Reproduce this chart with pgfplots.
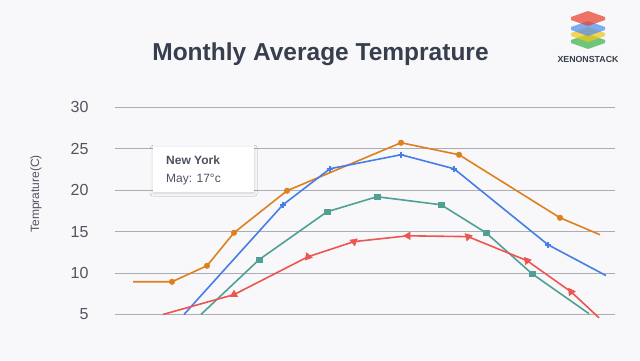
\documentclass[border=0pt]{standalone}
\usepackage{pgfplots}
\pgfplotsset{compat=1.18}
\usepackage{fontspec}
\setmainfont{Liberation Sans}
\usetikzlibrary{shadows.blur}
\definecolor{bg}{RGB}{248,248,251}
\definecolor{cgrid}{RGB}{172,172,180}
\definecolor{ctext}{RGB}{80,85,96}
\definecolor{ctitle}{RGB}{55,62,77}
\definecolor{corange}{RGB}{222,128,30}
\definecolor{cblue}{RGB}{70,125,230}
\definecolor{cteal}{RGB}{80,160,150}
\definecolor{cred}{RGB}{236,85,80}
\definecolor{lred}{RGB}{232,65,44}
\definecolor{lblue}{RGB}{79,143,240}
\definecolor{lyellow}{RGB}{245,197,24}
\definecolor{lgreen}{RGB}{59,179,74}
\begin{document}
\begin{tikzpicture}[x=1pt,y=1pt]
\path[use as bounding box, fill=bg] (0,0) rectangle (640,360);
% title
\node[anchor=base, font=\bfseries\fontsize{24.5}{28}\selectfont, text=ctitle, inner sep=0] at (320.5,300) {Monthly Average Temprature};
% y label
\node[rotate=90, font=\fontsize{12}{14}\selectfont, text=ctext, inner sep=0] at (36,166) {Temprature(C)};
\begin{axis}[
  at={(115,55)}, anchor=south west,
  scale only axis, width=500pt, height=207pt,
  xmin=115, xmax=615, ymin=5, ymax=30,
  clip=false,
  axis line style={draw=none},
  xtick=\empty,
  ytick={5,10,...,30},
  major tick length=0pt,
  ymajorgrids,
  grid style={draw=cgrid, line width=1pt},
  yticklabel style={font=\fontsize{16}{18}\selectfont, text=ctext, xshift=-23pt},
  /pgf/number format/assume math mode=true,
]
% orange
\addplot[corange, line width=1.6pt, line join=round, no marks] coordinates {
 (133,8.95) (172,8.95) (207,10.88) (234,14.87) (287,19.94) (401,25.74) (459,24.29) (560,16.68) (600,14.63)};
\addplot[corange, only marks, mark=*, mark size=2.8pt] coordinates {
 (172,8.95) (207,10.88) (234,14.87) (287,19.94) (401,25.74) (459,24.29) (560,16.68)};
% blue
\addplot[cblue, line width=1.6pt, line join=round, no marks] coordinates {
 (184,5.0) (283,18.25) (330,22.6) (401,24.29) (454,22.6) (548,13.42) (606,9.7)};
\addplot[cblue, only marks, mark=+, mark size=3pt, mark options={line width=2.2pt}] coordinates {
 (283,18.25) (330,22.6) (401,24.29) (454,22.6) (548,13.42)};
% teal
\addplot[cteal, line width=1.6pt, line join=round, no marks] coordinates {
 (201,5.0) (259,11.61) (327,17.4) (377,19.22) (441,18.25) (486,14.87) (532,9.92) (589,5.1)};
\addplot[cteal, only marks, mark=square*, mark size=2.7pt] coordinates {
 (259,11.61) (327,17.4) (377,19.22) (441,18.25) (486,14.87) (532,9.92)};
% red
\addplot[cred, line width=1.6pt, line join=round, no marks] coordinates {
 (163,5.0) (234,7.4) (308,11.97) (354,13.8) (408,14.5) (468,14.4) (527,11.5) (571,7.74) (599,4.6)};
\addplot[scatter, only marks, mark=triangle*, mark size=4.4pt,
  scatter/use mapped color={draw=cred, fill=cred},
  visualization depends on={\thisrow{r}\as\rot},
  scatter/@pre marker code/.append style={/tikz/rotate=\rot}]
  table[x=x, y=y, row sep=\\] {
  x y r \\
  234 7.4 0 \\
  308 11.97 20 \\
  354 13.8 70 \\
  408 14.5 90 \\
  468 14.4 45 \\
  527 11.5 40 \\
  571 7.74 35 \\
};
\end{axis}
% tooltip
\node[draw=none, fill=white, blur shadow={shadow xshift=0pt, shadow yshift=-1pt, shadow blur radius=3pt, shadow opacity=15},
  minimum width=101pt, minimum height=45pt, anchor=north west, inner sep=0] at (153,213) {};
\node[anchor=base west, font=\bfseries\fontsize{12}{14}\selectfont, text=ctitle!90, inner sep=0] at (166,196) {New York};
\node[anchor=base west, font=\fontsize{12}{14}\selectfont, text=ctitle!90, inner sep=0] at (166,178) {May: 17°c};
% logo
\begin{scope}[shift={(0,360)}, yscale=-1]
 \foreach \c/\cy in {lgreen/38, lyellow/31, lblue/25, lred/15} {
   \fill[\c, opacity=0.72] (571,\cy+2) -- (588,\cy-4) -- (605,\cy+2) -- (605,\cy+5) -- (588,\cy+11) -- (571,\cy+5) -- cycle;
 }
\end{scope}
\node[anchor=base, font=\bfseries\fontsize{8.8}{10}\selectfont, text=ctitle, inner sep=0] at (588,298) {XENONSTACK};
\end{tikzpicture}
\end{document}
